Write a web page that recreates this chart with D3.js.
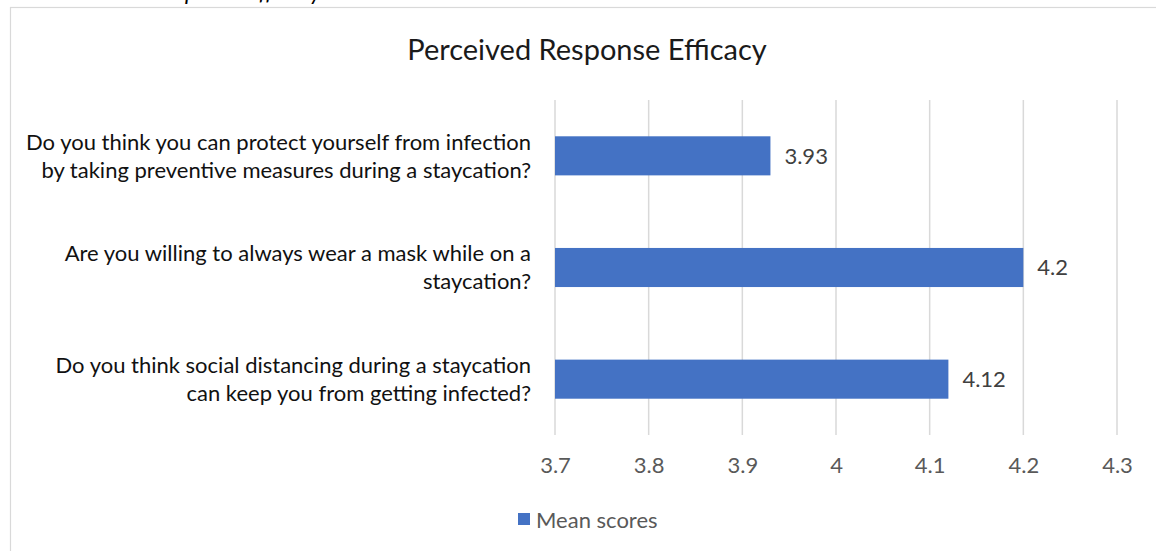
<!DOCTYPE html>
<html>
<head>
<meta charset="utf-8">
<script src="https://cdn.jsdelivr.net/npm/d3@7"></script>
<style>
  body { margin: 0; background: #fff; }
  svg { display: block; font-family: Lato, "Open Sans", sans-serif; }
</style>
</head>
<body>
<script>
var width = 1156;
var height = 551;

// data
var categories = [
  ["Do you think you can protect yourself from infection", "by taking preventive measures during a staycation?"],
  ["Are you willing to always wear a mask while on a", "staycation?"],
  ["Do you think social distancing during a staycation", "can keep you from getting infected?"]
];
var meanScores = [3.93, 4.2, 4.12];
var tickValues = [3.7, 3.8, 3.9, 4, 4.1, 4.2, 4.3];

var margin = {top: 100, right: 39, bottom: 116, left: 555};

var svg = d3.select("body")
    .append("svg")
    .attr("width", width)
    .attr("height", height);

// caption cut off at the top of the picture
svg.append("text")
    .attr("x", 321)
    .attr("y", 0)
    .attr("text-anchor", "end")
    .attr("font-style", "italic")
    .attr("font-size", "23px")
    .attr("fill", "#000")
    .text("Response Efficacy");

// chart frame
svg.append("rect")
    .attr("x", 10.5)
    .attr("y", 7.5)
    .attr("width", 1200)
    .attr("height", 600)
    .attr("fill", "none")
    .attr("stroke", "#d9d9d9")
    .attr("stroke-width", 1.2);

svg.append("text")
    .attr("x", 587)
    .attr("y", 50)
    .attr("dy", "0.35em")
    .attr("text-anchor", "middle")
    .attr("font-size", "29px")
    .attr("fill", "#1a1a1a")
    .text("Perceived Response Efficacy");

var x = d3.scaleLinear()
    .domain([3.7, 4.3])
    .range([margin.left, width - margin.right]);

var y = d3.scaleBand()
    .domain(d3.range(categories.length))
    .range([margin.top, height - margin.bottom])
    .paddingInner(0.65)
    .paddingOuter(0.325);

// gridlines
svg.append("g")
    .selectAll("line")
    .data(tickValues)
    .enter()
    .append("line")
    .attr("x1", function(d) { return x(d); })
    .attr("x2", function(d) { return x(d); })
    .attr("y1", margin.top)
    .attr("y2", height - margin.bottom)
    .attr("stroke", "#d9d9d9")
    .attr("stroke-width", 1.5);

// bottom axis labels
var xAxis = d3.axisBottom(x)
    .tickValues(tickValues)
    .tickSize(0)
    .tickPadding(0)
    .tickFormat(function(d) { return d3.format("")(d); });

var ax = svg.append("g")
    .attr("transform", "translate(0," + (height - margin.bottom + 32) + ")")
    .call(xAxis);
ax.select(".domain").remove();
ax.selectAll("text")
    .attr("dy", "0")
    .attr("dominant-baseline", "middle")
    .attr("font-family", "Lato, 'Open Sans', sans-serif")
    .attr("font-size", "22px")
    .attr("fill", "#595959");

// bars
svg.append("g")
    .selectAll("rect")
    .data(meanScores)
    .enter()
    .append("rect")
    .attr("x", x(3.7))
    .attr("y", function(d, i) { return y(i); })
    .attr("width", function(d) { return x(d) - x(3.7); })
    .attr("height", y.bandwidth())
    .attr("fill", "#4472c4");

// value labels
svg.append("g")
    .selectAll("text")
    .data(meanScores)
    .enter()
    .append("text")
    .attr("x", function(d) { return x(d) + 14; })
    .attr("y", function(d, i) { return y(i) + y.bandwidth() / 2; })
    .attr("dy", "0.35em")
    .attr("font-size", "22px")
    .attr("fill", "#404040")
    .text(function(d) { return d; });

// category labels
var cat = svg.append("g")
    .selectAll("text")
    .data(categories)
    .enter()
    .append("text")
    .attr("text-anchor", "end")
    .attr("font-size", "22px")
    .attr("fill", "#111");

cat.selectAll("tspan")
    .data(function(d, i) {
        return d.map(function(line, j) { return {line: line, i: i, j: j, n: d.length}; });
    })
    .enter()
    .append("tspan")
    .attr("x", 531)
    .attr("y", function(d) {
        return y(d.i) + y.bandwidth() / 2 + (d.j - (d.n - 1) / 2) * 28;
    })
    .attr("dy", "0.35em")
    .text(function(d) { return d.line; });

// legend
var legend = svg.append("g")
    .attr("transform", "translate(518,513)");
legend.append("rect")
    .attr("width", 12)
    .attr("height", 12)
    .attr("fill", "#4472c4");
legend.append("text")
    .attr("x", 18)
    .attr("y", 7)
    .attr("dy", "0.35em")
    .attr("font-size", "22px")
    .attr("fill", "#595959")
    .text("Mean scores");
</script>
</body>
</html>
